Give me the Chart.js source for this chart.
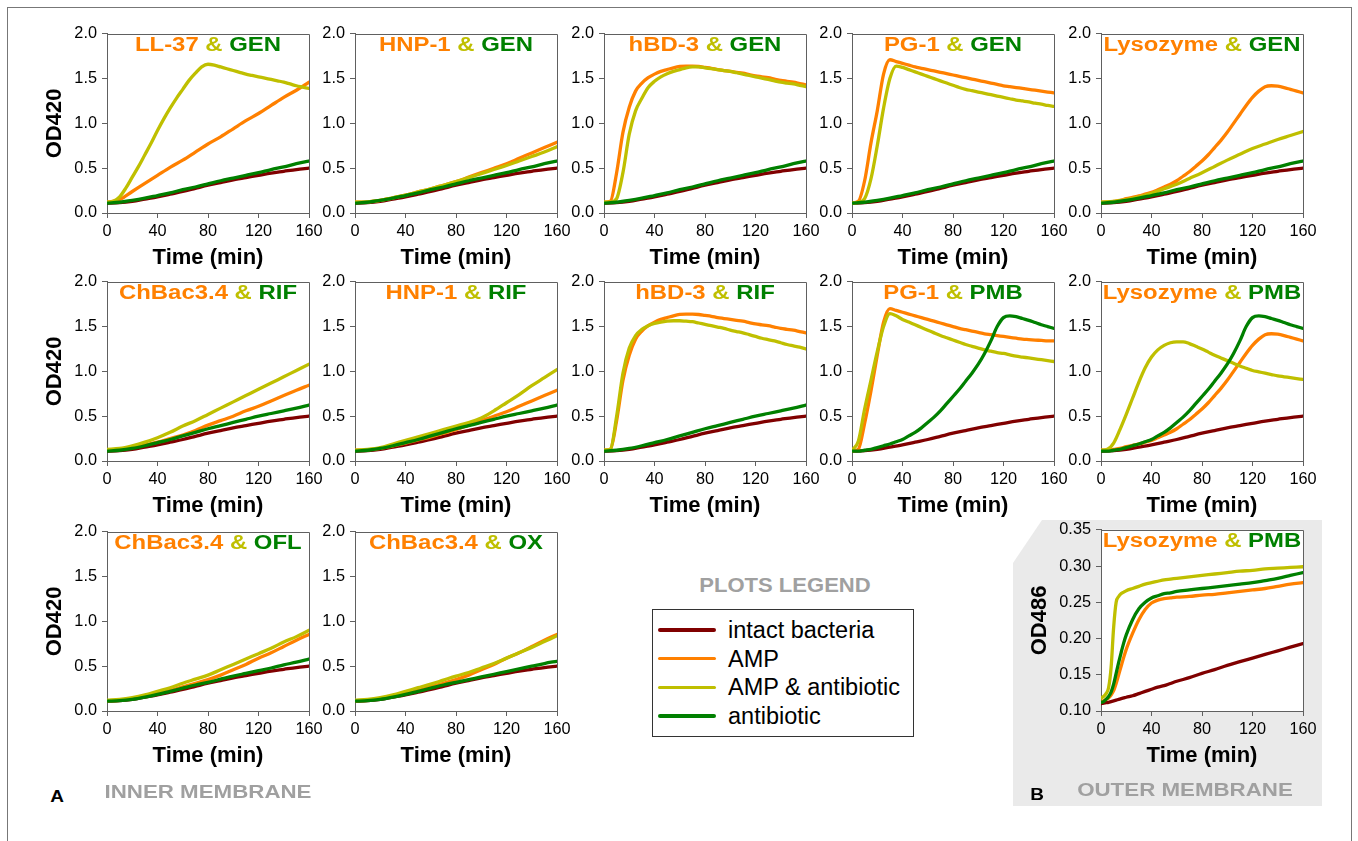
<!DOCTYPE html>
<html><head><meta charset="utf-8">
<script src="https://cdn.jsdelivr.net/npm/chart.js@4.4.0/dist/chart.umd.min.js"></script>
<style>
html,body{margin:0;padding:0;background:#fff;}
body{width:1358px;height:841px;position:relative;overflow:hidden;font-family:"Liberation Sans",Arial,sans-serif;}
canvas{position:absolute;}
.pt{position:absolute;font-family:"Liberation Sans",Arial,sans-serif;font-weight:bold;font-size:19.6px;line-height:1;white-space:nowrap;transform:translateX(-50%) scaleX(1.22);}
.lbl{position:absolute;font-family:"Liberation Sans",Arial,sans-serif;font-weight:bold;line-height:1;white-space:nowrap;color:#A0A0A0;}
.let{position:absolute;font-family:"Liberation Sans",Arial,sans-serif;font-weight:bold;font-size:16.5px;line-height:1;color:#000;transform:translateX(-50%) scaleX(1.15);}
.lg{position:absolute;font-family:"Liberation Sans",Arial,sans-serif;font-size:23.5px;line-height:1;color:#000;white-space:nowrap;}
.lgl{position:absolute;height:3.6px;border-radius:2px;}
</style></head><body>
<div id="frame" style="position:absolute;left:7px;top:7px;width:1343px;height:900px;border:1px solid #777;border-bottom:none;"></div>
<div style="position:absolute;left:1013px;top:520px;width:309px;height:286px;background:#EAEAEA;clip-path:polygon(29px 0,100% 0,100% 100%,0 100%,0 43px);"></div>
<div id="root"></div>
<script>
// ---- axis ticks ----
const T10 = [0,10,20,30,40,50,60,70,80,90,100,110,120,130,140,150,160];
const T5 = [0,5,10,15,20,25,30,35,40,45,50,55,60,65,70,75,80,85,90,95,100,105,110,115,120,125,130,135,140,145,150,155,160];
const TB = [0,2,4,6,8,10,12,14,16,18,20,25,30,35,40,45,50,55,60,70,80,90,100,110,120,130,140,150,160];
const X_TICKS = [0,40,80,120,160];
const Y_TICKS_A = [0,0.5,1,1.5,2];
const Y_LABELS_A = ['0.0','0.5','1.0','1.5','2.0'];
const Y_TICKS_B = [0.10,0.15,0.20,0.25,0.30,0.35];
const Y_LABELS_B = ['0.10','0.15','0.20','0.25','0.30','0.35'];

// ---- series (OD420) on T10 ----
const intact   = [0.11,0.115,0.13,0.155,0.18,0.21,0.24,0.275,0.31,0.34,0.37,0.395,0.42,0.445,0.465,0.485,0.50];
const gen      = [0.11,0.12,0.14,0.165,0.195,0.225,0.26,0.29,0.325,0.36,0.39,0.42,0.45,0.485,0.515,0.55,0.58];
const ll37     = [0.12,0.15,0.24,0.33,0.42,0.51,0.59,0.68,0.77,0.85,0.94,1.03,1.11,1.20,1.29,1.37,1.46];
const hnp1     = [0.12,0.125,0.14,0.17,0.20,0.235,0.27,0.31,0.35,0.40,0.45,0.50,0.55,0.61,0.67,0.73,0.79];
const hnp1Gen  = [0.12,0.125,0.14,0.17,0.20,0.235,0.27,0.31,0.35,0.395,0.44,0.485,0.53,0.58,0.63,0.68,0.74];
const lysGen   = [0.12,0.13,0.15,0.18,0.22,0.27,0.32,0.385,0.45,0.52,0.59,0.655,0.72,0.77,0.82,0.865,0.91];
const chbac2   = [0.12,0.13,0.15,0.18,0.21,0.25,0.29,0.34,0.40,0.45,0.50,0.56,0.61,0.67,0.73,0.79,0.845];
const chbacRif = [0.13,0.14,0.17,0.21,0.26,0.32,0.39,0.45,0.52,0.59,0.66,0.73,0.80,0.87,0.94,1.01,1.08];
const rif      = [0.11,0.12,0.14,0.17,0.205,0.24,0.28,0.32,0.36,0.395,0.43,0.465,0.50,0.53,0.56,0.59,0.625];
const hnp1Rif  = [0.12,0.13,0.15,0.19,0.23,0.27,0.31,0.35,0.39,0.43,0.48,0.56,0.65,0.74,0.84,0.93,1.02];
const chbac3   = [0.11,0.12,0.14,0.17,0.20,0.23,0.27,0.31,0.35,0.40,0.46,0.52,0.59,0.65,0.72,0.79,0.855];
const chbacOfl = [0.12,0.13,0.15,0.18,0.22,0.26,0.31,0.355,0.40,0.46,0.52,0.58,0.64,0.70,0.77,0.83,0.90];
const ofl      = [0.11,0.115,0.13,0.155,0.185,0.22,0.255,0.29,0.32,0.355,0.39,0.42,0.45,0.48,0.515,0.545,0.58];
const ox       = [0.11,0.115,0.13,0.155,0.185,0.22,0.255,0.29,0.32,0.35,0.38,0.41,0.44,0.47,0.50,0.53,0.555];
const chbacOx  = [0.12,0.13,0.15,0.18,0.22,0.26,0.30,0.345,0.39,0.43,0.48,0.53,0.59,0.65,0.71,0.775,0.84];

// ---- series (OD420) on T5 ----
const ll37Gen = [0.12,0.13,0.18,0.28,0.40,0.52,0.65,0.78,0.92,1.05,1.17,1.28,1.38,1.48,1.56,1.63,1.66,1.65,1.63,1.61,1.59,1.57,1.55,1.535,1.52,1.505,1.49,1.475,1.46,1.44,1.42,1.405,1.39];
const hbd3    = [0.12,0.13,0.45,0.90,1.18,1.36,1.45,1.51,1.55,1.58,1.60,1.62,1.635,1.64,1.64,1.635,1.625,1.615,1.60,1.59,1.58,1.57,1.56,1.545,1.53,1.52,1.51,1.495,1.48,1.47,1.46,1.445,1.43];
const hbd3Gen = [0.12,0.12,0.16,0.45,0.88,1.14,1.28,1.40,1.47,1.52,1.555,1.58,1.60,1.62,1.63,1.63,1.62,1.61,1.60,1.59,1.58,1.565,1.55,1.535,1.52,1.505,1.49,1.475,1.46,1.45,1.44,1.425,1.41];
const pg1     = [0.11,0.13,0.36,0.78,1.14,1.55,1.71,1.69,1.67,1.65,1.63,1.615,1.60,1.585,1.57,1.555,1.54,1.525,1.51,1.495,1.48,1.465,1.45,1.435,1.42,1.41,1.40,1.39,1.38,1.37,1.36,1.35,1.34];
const pg1Gen  = [0.11,0.12,0.16,0.38,0.75,1.17,1.50,1.64,1.625,1.60,1.575,1.55,1.525,1.50,1.475,1.45,1.425,1.40,1.38,1.365,1.35,1.335,1.32,1.305,1.29,1.275,1.26,1.25,1.24,1.225,1.215,1.20,1.19];
const lys     = [0.12,0.12,0.13,0.14,0.16,0.175,0.19,0.21,0.23,0.26,0.29,0.32,0.36,0.41,0.46,0.52,0.58,0.65,0.73,0.81,0.90,1.00,1.10,1.20,1.29,1.36,1.41,1.42,1.415,1.40,1.38,1.36,1.34];
const hbd3Rif = [0.12,0.13,0.50,0.98,1.26,1.40,1.47,1.51,1.535,1.55,1.56,1.565,1.565,1.56,1.555,1.54,1.525,1.51,1.495,1.48,1.46,1.445,1.43,1.41,1.39,1.37,1.355,1.34,1.32,1.30,1.285,1.27,1.25];
const pg1b    = [0.11,0.13,0.42,0.78,1.18,1.55,1.70,1.68,1.66,1.64,1.62,1.60,1.58,1.56,1.54,1.52,1.50,1.48,1.465,1.45,1.435,1.42,1.41,1.40,1.39,1.38,1.37,1.36,1.355,1.35,1.345,1.34,1.34];
const pg1Pmb  = [0.12,0.22,0.58,0.90,1.22,1.50,1.645,1.62,1.58,1.55,1.52,1.49,1.46,1.43,1.40,1.375,1.35,1.325,1.30,1.28,1.26,1.24,1.225,1.21,1.20,1.185,1.17,1.16,1.15,1.14,1.13,1.12,1.11];
const pmb     = [0.11,0.11,0.12,0.13,0.15,0.17,0.19,0.215,0.24,0.28,0.32,0.37,0.43,0.49,0.56,0.64,0.72,0.80,0.89,0.98,1.08,1.20,1.34,1.50,1.60,1.62,1.61,1.59,1.57,1.545,1.52,1.50,1.48];
const lysPmb  = [0.12,0.13,0.20,0.35,0.52,0.70,0.88,1.04,1.16,1.24,1.29,1.32,1.33,1.33,1.31,1.28,1.25,1.215,1.18,1.15,1.12,1.09,1.06,1.035,1.01,0.995,0.98,0.965,0.95,0.94,0.93,0.92,0.91];

// ---- panel B series (OD486) on TB ----
const intactB = [0.110,0.111,0.1115,0.112,0.113,0.114,0.115,0.116,0.117,0.118,0.119,0.121,0.124,0.127,0.130,0.133,0.135,0.138,0.141,0.146,0.152,0.157,0.163,0.168,0.173,0.178,0.183,0.188,0.193];
const lysB    = [0.113,0.114,0.116,0.118,0.122,0.128,0.138,0.150,0.162,0.174,0.185,0.207,0.226,0.240,0.249,0.253,0.255,0.256,0.257,0.258,0.260,0.261,0.263,0.265,0.267,0.269,0.272,0.275,0.277];
const lysPmbB = [0.118,0.120,0.124,0.132,0.160,0.215,0.250,0.258,0.262,0.264,0.266,0.269,0.272,0.275,0.277,0.279,0.281,0.282,0.283,0.285,0.287,0.289,0.291,0.293,0.294,0.296,0.297,0.298,0.299];
const pmbB    = [0.112,0.113,0.116,0.120,0.126,0.137,0.152,0.167,0.181,0.194,0.205,0.226,0.241,0.250,0.256,0.259,0.262,0.263,0.265,0.267,0.269,0.271,0.273,0.275,0.277,0.280,0.283,0.287,0.291];

const SERIES_NAMES = ['intact bacteria','AMP','AMP & antibiotic','antibiotic'];
const COLORS = ['#800000','#FF8000','#BFBF00','#008000'];

// ---- panels: [amp, antibiotic, series...] ----
const PANELS = [
  {c:0,r:0,amp:'LL-37',ab:'GEN',s:[[T10,intact],[T10,ll37],[T5,ll37Gen],[T10,gen]]},
  {c:1,r:0,amp:'HNP-1',ab:'GEN',s:[[T10,intact],[T10,hnp1],[T10,hnp1Gen],[T10,gen]]},
  {c:2,r:0,amp:'hBD-3',ab:'GEN',s:[[T10,intact],[T5,hbd3],[T5,hbd3Gen],[T10,gen]]},
  {c:3,r:0,amp:'PG-1',ab:'GEN',s:[[T10,intact],[T5,pg1],[T5,pg1Gen],[T10,gen]]},
  {c:4,r:0,amp:'Lysozyme',ab:'GEN',s:[[T10,intact],[T5,lys],[T10,lysGen],[T10,gen]]},
  {c:0,r:1,amp:'ChBac3.4',ab:'RIF',s:[[T10,intact],[T10,chbac2],[T10,chbacRif],[T10,rif]]},
  {c:1,r:1,amp:'HNP-1',ab:'RIF',s:[[T10,intact],[T10,hnp1],[T10,hnp1Rif],[T10,rif]]},
  {c:2,r:1,amp:'hBD-3',ab:'RIF',s:[[T10,intact],[T5,hbd3],[T5,hbd3Rif],[T10,rif]]},
  {c:3,r:1,amp:'PG-1',ab:'PMB',s:[[T10,intact],[T5,pg1b],[T5,pg1Pmb],[T5,pmb]]},
  {c:4,r:1,amp:'Lysozyme',ab:'PMB',s:[[T10,intact],[T5,lys],[T5,lysPmb],[T5,pmb]]},
  {c:0,r:2,amp:'ChBac3.4',ab:'OFL',s:[[T10,intact],[T10,chbac3],[T10,chbacOfl],[T10,ofl]]},
  {c:1,r:2,amp:'ChBac3.4',ab:'OX',s:[[T10,intact],[T10,chbac3],[T10,chbacOx],[T10,ox]]},
  {c:4,r:2,amp:'Lysozyme',ab:'PMB',b:true,s:[[TB,intactB],[TB,lysB],[TB,lysPmbB],[TB,pmbB]]}
];

// ---- layout ----
const COL_X = [107,355,604,852,1101];
const ROW_Y = [31,279,529];
const PW = 202, PH = 182;
const YAX = 100, PADR = 22, PADT = 12, XAX = 62;
const FONT = '"Liberation Sans", Arial, sans-serif';

const framePlugin = {
  id:'frameBox',
  beforeDraw(c){ const a=c.chartArea, x=c.ctx; x.save(); x.fillStyle='#fff'; x.fillRect(a.left,a.top,a.width,a.height); x.restore(); },
  afterDraw(c){ const a=c.chartArea, x=c.ctx; x.save(); x.strokeStyle='#606060'; x.lineWidth=1;
    x.beginPath(); x.moveTo(Math.round(a.left)+0.5, Math.round(a.top)+0.5); x.lineTo(Math.round(a.right)+0.5, Math.round(a.top)+0.5);
    x.lineTo(Math.round(a.right)+0.5, Math.round(a.bottom)+0.5); x.stroke(); x.restore(); }
};

const root = document.getElementById('root');
PANELS.forEach(p => {
  const left = COL_X[p.c];
  const top = p.b ? 527 : ROW_Y[p.r];
  const ph = p.b ? 184 : PH;
  const W = YAX + PW + PADR, H = PADT + ph + XAX;
  const cv = document.createElement('canvas');
  cv.width = W; cv.height = H;
  cv.style.left = (left - YAX) + 'px'; cv.style.top = (top - PADT) + 'px';
  cv.style.width = W + 'px'; cv.style.height = H + 'px';
  root.appendChild(cv);
  const yt = p.b ? Y_TICKS_B : Y_TICKS_A;
  const yl = p.b ? Y_LABELS_B : Y_LABELS_A;
  const showY = p.c === 0 || p.b;
  new Chart(cv, {
    type:'line',
    data:{datasets:p.s.map((s,i)=>({
      label:SERIES_NAMES[i],
      data:s[0].map((t,j)=>({x:t,y:s[1][j]})),
      borderColor:COLORS[i], borderWidth:3.3, pointRadius:0, fill:false,
      cubicInterpolationMode:'monotone', order:4-i, borderCapStyle:'round', borderJoinStyle:'round'
    }))},
    options:{
      responsive:false, animation:false, devicePixelRatio:1,
      layout:{padding:{left:0,right:PADR,top:PADT,bottom:0}},
      plugins:{legend:{display:false},tooltip:{enabled:false}},
      scales:{
        x:{type:'linear',min:0,max:160,
          afterFit:s=>{s.height=XAX;},
          afterBuildTicks:s=>{s.ticks=X_TICKS.map(v=>({value:v}));},
          ticks:{autoSkip:false,maxRotation:0,padding:4,color:'#000',font:{family:FONT,size:16.3}},
          grid:{drawOnChartArea:false,tickLength:5,color:'#606060'},
          border:{color:'#606060'},
          title:{display:true,text:'Time (min)',color:'#000',font:{family:FONT,size:22,weight:'bold'},padding:{top:0,bottom:3.5}}
        },
        y:{type:'linear',min:yt[0],max:yt[yt.length-1],
          afterFit:s=>{s.width=YAX;},
          afterBuildTicks:s=>{s.ticks=yt.map(v=>({value:v}));},
          ticks:{autoSkip:false,padding:5,color:'#000',font:{family:FONT,size:16.3},callback:(v,i)=>yl[i]},
          grid:{drawOnChartArea:false,tickLength:5,color:'#606060'},
          border:{color:'#606060'},
          title:{display:showY,text:p.b?'OD486':'OD420',color:'#000',font:{family:FONT,size:22,weight:'bold'},padding:{top:p.b?25.8:35.1,bottom:0}}
        }
      }
    },
    plugins:[framePlugin]
  });
  // panel title (real text)
  const t = document.createElement('div');
  t.className = 'pt';
  t.style.left = (left + PW/2) + 'px';
  t.style.top = (top + 14 - 9.7) + 'px';
  t.innerHTML = '<span style="color:'+COLORS[1]+'">'+p.amp+'</span> <span style="color:'+COLORS[2]+'">&amp;</span> <span style="color:'+COLORS[3]+'">'+p.ab+'</span>';
  document.body.appendChild(t);
});

// ---- legend and labels ----
function addDiv(cls, html, styles){ const d=document.createElement('div'); d.className=cls; d.innerHTML=html; Object.assign(d.style, styles); document.body.appendChild(d); return d; }
addDiv('lbl','PLOTS LEGEND',{left:'785px',top:'575.6px',fontSize:'19.5px',transform:'translateX(-50%) scaleX(1.13)'});
addDiv('', '', {position:'absolute',left:'651.5px',top:'609px',width:'262px',height:'128px',border:'1.5px solid #333',boxSizing:'border-box'});
const LG_BASE = [639,667.5,696.3,725];
SERIES_NAMES.forEach((n,i)=>{
  addDiv('lgl','',{left:'658px',top:(LG_BASE[i]-8.8-1.8)+'px',width:'58px',background:COLORS[i]});
  addDiv('lg',n.replace('&','&amp;'),{left:'728px',top:(LG_BASE[i]-19.9)+'px'});
});
addDiv('let','A',{left:'56.7px',top:'787.8px'});
addDiv('let','B',{left:'1037px',top:'785.8px'});
addDiv('lbl','INNER MEMBRANE',{left:'207.8px',top:'782.5px',fontSize:'18.6px',transform:'translateX(-50%) scaleX(1.2)'});
addDiv('lbl','OUTER MEMBRANE',{left:'1184.7px',top:'780.5px',fontSize:'18.6px',transform:'translateX(-50%) scaleX(1.2)'});
</script>
</body></html>
